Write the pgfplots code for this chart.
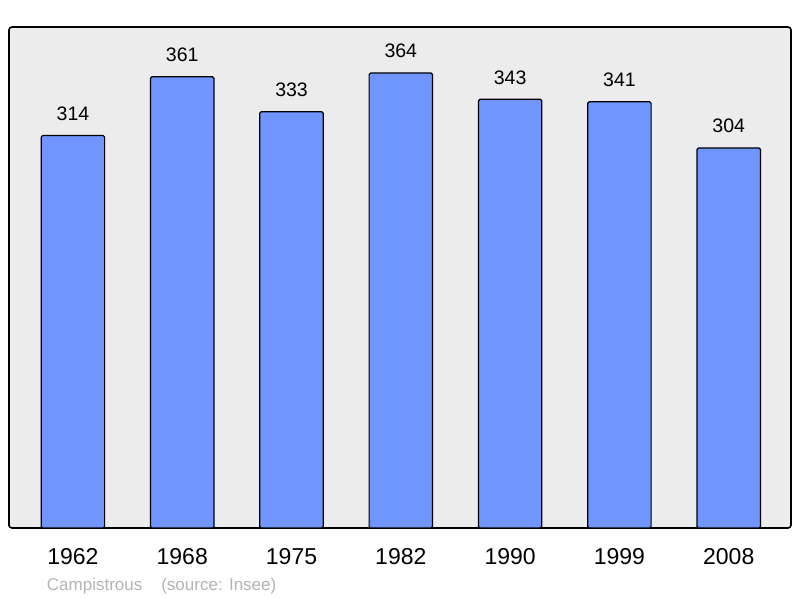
\documentclass[border=0pt]{standalone}
\usepackage{pgfplots}
\pgfplotsset{compat=1.18}
\usepackage{fontspec}
\setmainfont{Liberation Sans}
\definecolor{bgc}{HTML}{ECECEC}
\definecolor{barc}{HTML}{7095FF}
\definecolor{srcc}{HTML}{B4B4B4}
\begin{document}
\begin{tikzpicture}[x=1bp,y=1bp]
\useasboundingbox (0,0) rectangle (800,598);
\begin{axis}[
  at={(9bp,70bp)}, anchor=south west,
  scale only axis, width=782bp, height=501bp,
  xmin=-0.585, xmax=6.57, ymin=0, ymax=400.8,
  axis background/.style={fill=bgc},
  axis line style={line width=1.6bp, rounded corners=3bp},
  ytick=\empty,
  xtick=data,
  xticklabels={1962,1968,1975,1982,1990,1999,2008},
  major tick length=0pt,
  xticklabel style={font=\fontsize{23bp}{26bp}\selectfont, yshift=-17bp},
  /pgf/number format/assume math mode=true,
  ybar, bar width=0.58,
  nodes near coords,
  every node near coord/.append style={font=\fontsize{19.5bp}{23bp}\selectfont, yshift=11bp},
  clip=false,
]
\addplot[fill=barc, draw=black, line width=1.2bp, rounded corners=1.5bp] coordinates {
(0,314) (1,361) (2,333) (3,364) (4,343) (5,341) (6,304)};
\node[anchor=west, text=srcc, font=\fontsize{17bp}{20bp}\selectfont] at (axis description cs:0.044,-0.116) {Campistrous\hspace{19bp}(source: Insee)};
\end{axis}
\end{tikzpicture}
\end{document}
